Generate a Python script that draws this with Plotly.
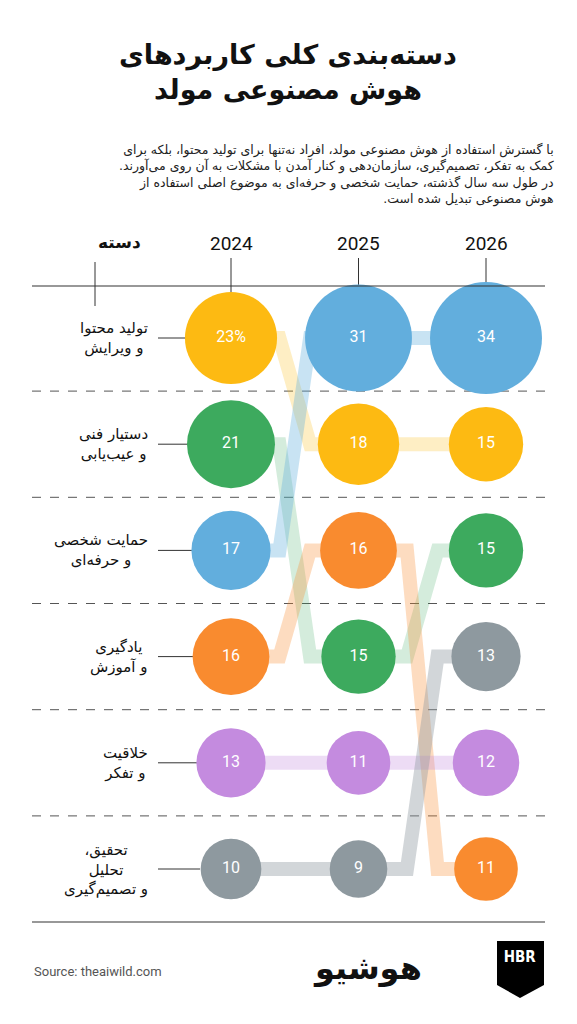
import plotly.graph_objects as go
import math

W, H = 561, 1008   # page adds 8px body margin
OFF = 8
years = [2024, 2025, 2026]
categories = ["تولید محتوا<br>و ویرایش", "دستیار فنی<br>و عیب‌یابی", "حمایت شخصی<br>و حرفه‌ای",
              "یادگیری<br>و آموزش", "خلاقیت<br>و تفکر", "تحقیق،<br>تحلیل<br>و تصمیم‌گیری"]
keys = ["content", "tech", "personal", "learning", "creative", "research"]
values = {
    "content":  [23, 18, 15],
    "tech":     [21, 15, 15],
    "personal": [17, 31, 34],
    "learning": [16, 16, 11],
    "creative": [13, 11, 12],
    "research": [10, 9, 13],
}
ranks = {
    "content":  [1, 2, 2],
    "tech":     [2, 4, 3],
    "personal": [3, 1, 1],
    "learning": [4, 3, 6],
    "creative": [5, 5, 5],
    "research": [6, 6, 4],
}
colors = {"content": "#FDBA12", "tech": "#3DAA5E", "personal": "#62AEDD",
          "learning": "#F98B2F", "creative": "#C48BDF", "research": "#8E999F"}
light = {"content": "rgba(253,186,18,0.25)", "tech": "rgba(61,170,94,0.22)",
         "personal": "rgba(98,174,221,0.35)", "learning": "rgba(249,139,47,0.3)",
         "creative": "rgba(196,139,223,0.3)", "research": "rgba(142,153,159,0.4)"}
labels_first = {k: f"{v[0]}" for k, v in values.items()}
labels_first["content"] = "23%"

RLM = "\u200F"
def rtl(s):
    return "<br>".join(RLM + ln + RLM for ln in s.split("<br>"))

px_per_year = (486 - 231) / 2
x0 = 2024 - (231 - OFF) / px_per_year
x1 = 2026 + (W + OFF - 486) / px_per_year
row_h = (869 - 338) / 5
y_top = 1 - (338 - OFF) / row_h
y_bot = 6 + (H + OFF - 869) / row_h

def px(xp):
    return (xp - OFF) / W
def py(yp):
    return 1 - (yp - OFF) / H

fig = go.Figure()
for k in keys:
    xs, ys = [], []
    for i in range(2):
        xa, xb = years[i], years[i + 1]
        ra, rb = ranks[k][i], ranks[k][i + 1]
        xs += [xa, xa + 0.38, xb - 0.38, xb]
        ys += [ra, ra, rb, rb]
    fig.add_trace(go.Scatter(x=xs, y=ys, mode="lines", line=dict(color=light[k], width=14),
                             hoverinfo="skip", showlegend=False))
for k in keys:
    txt = [str(v) for v in values[k]]
    txt[0] = labels_first[k]
    fig.add_trace(go.Scatter(
        x=years, y=ranks[k], mode="markers+text", text=txt,
        textfont=dict(color="white", size=16, family="Roboto"),
        marker=dict(size=[19.2 * math.sqrt(v) for v in values[k]], color=colors[k], line=dict(width=0), opacity=1),
        hoverinfo="skip", showlegend=False))

shapes = []
for yy in (286, 922):
    shapes.append(dict(type="line", xref="paper", yref="paper", x0=px(32), x1=px(545), y0=py(yy), y1=py(yy),
                       line=dict(color="#333", width=1.2)))
for r in range(1, 6):
    shapes.append(dict(type="line", xref="paper", yref="y", x0=px(32), x1=px(545), y0=r + 0.5, y1=r + 0.5,
                       line=dict(color="#555", width=1, dash="dash"), layer="below"))
shapes.append(dict(type="line", xref="paper", yref="paper", x0=px(95), x1=px(95), y0=py(262), y1=py(306), line=dict(color="#333", width=1)))
for yv in years:
    shapes.append(dict(type="line", xref="x", yref="paper", x0=yv, x1=yv, y0=py(258), y1=py(300), line=dict(color="#333", width=1), layer="below"))
for r in range(1, 7):
    shapes.append(dict(type="line", xref="paper", yref="y", x0=px(158), x1=px(200), y0=r, y1=r, line=dict(color="#333", width=1), layer="below"))
shapes.append(dict(type="path", xref="paper", yref="paper",
                   path=f"M {px(497)} {py(941)} L {px(544)} {py(941)} L {px(544)} {py(985)} L {px(520)} {py(998)} L {px(497)} {py(985)} Z",
                   fillcolor="black", line=dict(width=0), layer="below"))

ann = []
ann.append(dict(xref="paper", yref="paper", x=px(288), y=py(72), text="<b>" + rtl("دسته‌بندی کلی کاربردهای<br>هوش مصنوعی مولد") + "</b>",
                showarrow=False, font=dict(size=27, family="DejaVu Sans", color="#111"), align="center", yanchor="middle"))
ann.append(dict(xref="paper", yref="paper", x=px(556), y=py(175),
                text=rtl("با گسترش استفاده از هوش مصنوعی مولد، افراد نه‌تنها برای تولید محتوا، بلکه برای<br>کمک به تفکر، تصمیم‌گیری، سازمان‌دهی و کنار آمدن با مشکلات به آن روی می‌آورند.<br>در طول سه سال گذشته، حمایت شخصی و حرفه‌ای به موضوع اصلی استفاده از<br>هوش مصنوعی تبدیل شده است."),
                showarrow=False, font=dict(size=12.5, family="DejaVu Sans", color="#222"), align="right", xanchor="right", yanchor="middle"))
ann.append(dict(xref="paper", yref="paper", x=px(96), y=py(242), text="<b>" + rtl("دسته") + "</b>", showarrow=False,
                font=dict(size=17, family="DejaVu Sans", color="#111"), yanchor="middle"))
for yv in years:
    ann.append(dict(xref="x", yref="paper", x=yv, y=py(243), text=str(yv), showarrow=False,
                    font=dict(size=19, family="Roboto", color="#111"), yanchor="middle"))
for r, c in enumerate(categories, start=1):
    ann.append(dict(xref="paper", yref="y", x=px(150), y=r, text=rtl(c), showarrow=False, align="center",
                    xanchor="right", font=dict(size=15, family="DejaVu Sans", color="#111"), yanchor="middle"))
ann.append(dict(xref="paper", yref="paper", x=px(32), y=py(971), text="Source: theaiwild.com", showarrow=False,
                xanchor="left", font=dict(size=13, family="Roboto", color="#555"), yanchor="middle"))
ann.append(dict(xref="paper", yref="paper", x=px(367), y=py(968), text="<b>" + rtl("هوشیو") + "</b>", showarrow=False,
                font=dict(size=32, family="DejaVu Sans", color="#111"), yanchor="middle"))
ann.append(dict(xref="paper", yref="paper", x=px(520), y=py(957), text="<b>HBR</b>", showarrow=False,
                width=46, align="center", xanchor="center",
                font=dict(size=15, family="DejaVu Sans Condensed, DejaVu Sans", color="white"), yanchor="middle"))

fig.update_layout(
    width=W, height=H, margin=dict(l=0, r=0, t=0, b=0),
    paper_bgcolor="white", plot_bgcolor="white",
    xaxis=dict(range=[x0, x1], visible=False, domain=[0, 1], fixedrange=True),
    yaxis=dict(range=[y_bot, y_top], visible=False, domain=[0, 1], fixedrange=True),
    shapes=shapes, annotations=ann,
)
fig.write_html("out.html")
